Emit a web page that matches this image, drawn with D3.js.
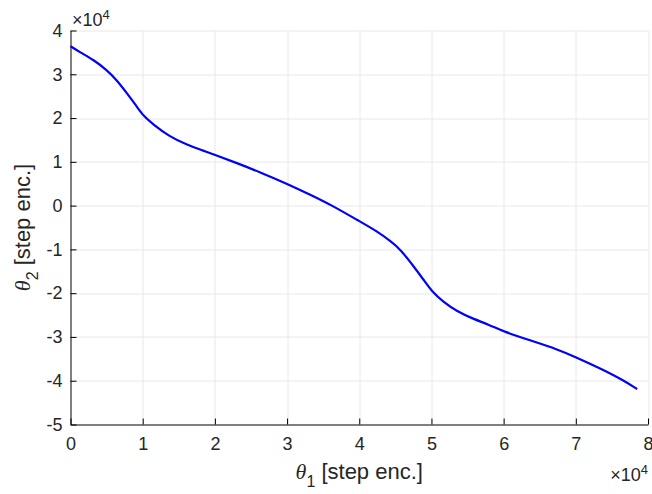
<!DOCTYPE html>
<html>
<head>
<meta charset="utf-8">
<script src="https://cdn.jsdelivr.net/npm/d3@7"></script>
<style>
  body { margin: 0; background: #fff; }
  svg { display: block; font-family: "Liberation Sans", Arial, Helvetica, sans-serif; }
  .tick text { font-size: 18px; fill: #262626; }
  .label { font-size: 22px; fill: #262626; }
</style>
</head>
<body>
<div id="chart"></div>
<script>
// theta1 / theta2 in encoder steps
var theta1 = [0, 1350, 3200, 5000, 6400, 7800, 9200, 10100, 11500, 13600, 16100, 18400,
    20000, 23000, 26300, 30000, 33200, 36000, 40000, 42400, 44500, 45700, 47500, 48900,
    50000, 51700, 53500, 55800, 58000, 60000, 64100, 67400, 70000, 73400, 76600, 78500];
var theta2 = [36400, 35000, 33300, 31000, 28700, 25700, 22600, 20500, 18500, 15900, 13900, 12550,
    11600, 9750, 7600, 5000, 2500, 250, -3550, -5800, -8300, -10000, -13800, -16900,
    -19500, -22100, -24100, -25900, -27200, -28800, -31000, -32800, -34600, -37200, -39900, -41900];
var xTicks = [0, 10000, 20000, 30000, 40000, 50000, 60000, 70000, 80000];
var yTicks = [-50000, -40000, -30000, -20000, -10000, 0, 10000, 20000, 30000, 40000];

var margin = { top: 30.5, right: 4, bottom: 69.5, left: 70.5 };
var width = 652 - margin.left - margin.right;
var height = 494 - margin.top - margin.bottom;

var svg = d3.select('#chart').append('svg')
    .attr('width', 652)
    .attr('height', 494);

var g = svg.append('g')
    .attr('transform', 'translate(' + margin.left + ',' + margin.top + ')');

var xScale = d3.scaleLinear().domain([0, 80000]).range([0, width]);
var yScale = d3.scaleLinear().domain([-50000, 40000]).range([height, 0]);

// grid
g.append('g').selectAll('line')
    .data(xTicks.slice(1))
    .enter().append('line')
    .attr('x1', d => Math.round(xScale(d)) + 0.5)
    .attr('x2', d => Math.round(xScale(d)) + 0.5)
    .attr('y1', 0)
    .attr('y2', height)
    .attr('stroke', '#e8e8e8');
g.append('g').selectAll('line')
    .data(yTicks.slice(1))
    .enter().append('line')
    .attr('y1', d => Math.round(yScale(d)) + 0.5)
    .attr('y2', d => Math.round(yScale(d)) + 0.5)
    .attr('x1', 0)
    .attr('x2', width)
    .attr('stroke', '#e8e8e8');

// matlab style labels: plain hyphen for minus
var fmt = d => String(d / 10000);

var xAxis = g.append('g')
    .attr('transform', 'translate(0,' + height + ')')
    .call(d3.axisBottom(xScale).tickValues(xTicks).tickFormat(fmt).tickSize(-6).tickPadding(13).tickSizeOuter(0));
var yAxis = g.append('g')
    .call(d3.axisLeft(yScale).tickValues(yTicks).tickFormat(fmt).tickSize(-6).tickPadding(8).tickSizeOuter(0));

[xAxis, yAxis].forEach(function (a) {
    a.select('.domain').attr('stroke', '#000');
    a.selectAll('.tick line').attr('stroke', '#000');
    a.selectAll('.tick text').attr('fill', '#262626').attr('font-size', 18);
});

// curve
var pts = theta1.map((d, i) => [d, theta2[i]]);
var line = d3.line()
    .x(d => xScale(d[0]))
    .y(d => yScale(d[1]))
    .curve(d3.curveBasis);

g.append('path')
    .datum(pts)
    .attr('d', line)
    .attr('fill', 'none')
    .attr('stroke', '#0000ff')
    .attr('stroke-width', 2.2);

// exponent labels
function expLabel(x, y, anchor) {
    var t = svg.append('text')
        .attr('x', x)
        .attr('y', y)
        .attr('text-anchor', anchor)
        .style('font-size', '18px')
        .attr('fill', '#262626');
    t.append('tspan').text('\u00d710');
    t.append('tspan').attr('dy', -7).style('font-size', '13px').text('4');
}
expLabel(72, 26, 'start');
expLabel(648, 481, 'end');

// axis labels
var xl = svg.append('text')
    .attr('class', 'label')
    .attr('x', margin.left + width / 2)
    .attr('y', 479)
    .attr('text-anchor', 'middle');
xl.append('tspan').style('font-family', '"Liberation Serif", "Times New Roman", serif').style('font-style', 'italic').text('\u03b8');
xl.append('tspan').attr('dy', 8).style('font-size', '16px').text('1');
xl.append('tspan').attr('dy', -8).text(' [step enc.]');

var yl = svg.append('text')
    .attr('class', 'label')
    .attr('transform', 'translate(30,' + (margin.top + height / 2) + ') rotate(-90)')
    .attr('text-anchor', 'middle');
yl.append('tspan').style('font-family', '"Liberation Serif", "Times New Roman", serif').style('font-style', 'italic').text('\u03b8');
yl.append('tspan').attr('dy', 8).style('font-size', '16px').text('2');
yl.append('tspan').attr('dy', -8).text(' [step enc.]');
</script>
</body>
</html>
